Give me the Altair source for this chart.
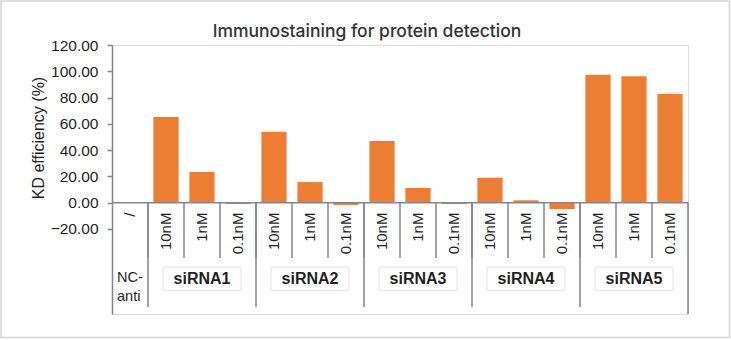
import altair as alt
import pandas as pd

# ---------------- data ----------------
title_text = "Immunostaining for protein detection"
groups = ["siRNA1", "siRNA2", "siRNA3", "siRNA4", "siRNA5"]
concs = ["10nM", "1nM", "0.1nM"]
kd_siRNA1 = [65.3, 23.3, -0.9]
kd_siRNA2 = [54.0, 15.7, -1.7]
kd_siRNA3 = [46.9, 11.2, -1.0]
kd_siRNA4 = [19.0, 1.8, -4.8]
kd_siRNA5 = [97.3, 96.3, 82.7]
nc_label_lines = ["NC-", "anti"]
nc_tick = "/"
nc_value = 0.0
y_ticks = [-20, 0, 20, 40, 60, 80, 100, 120]

values = dict(zip(groups, [kd_siRNA1, kd_siRNA2, kd_siRNA3, kd_siRNA4, kd_siRNA5]))

rows = [{"key": "NC", "conc": nc_tick, "group": "NC-anti", "value": nc_value}]
for g in groups:
    for c, v in zip(concs, values[g]):
        rows.append({"key": f"{g} {c}", "conc": c, "group": g, "value": v})
df = pd.DataFrame(rows)
order = list(df["key"])

# ---------------- layout (data units of y scale, below zero = table) ----------------
Y_MIN, Y_MAX = -84.7, 120
SHORT_BOTTOM = -42.0
LONG_BOTTOM = -79.4
CONC_LABEL_TOP = -7.5
GROUP_LABEL_Y = -58.4
BOX_TOP, BOX_BOTTOM = -49.0, -66.6
NC_Y = [-57.6, -72.0]

LINE = "#858585"
TXT = "#1f1f1f"
FONT = "Liberation Sans"

x_scale = alt.Scale(domain=order, paddingInner=0, paddingOuter=0)
y_scale = alt.Scale(domain=[Y_MIN, Y_MAX], nice=False)

y_axis = alt.Axis(
    values=y_ticks, format=".2f", grid=False, labelOverlap=False,
    domainColor=LINE, domainWidth=1.5, tickColor=LINE, tickWidth=1.5, tickSize=5,
    labelFont=FONT, labelFontSize=15.5, labelColor=TXT, labelPadding=9,
    title="KD efficiency (%)", titleFont=FONT, titleFontSize=16,
    titleFontWeight="normal", titleColor=TXT, titleAngle=270,
    titleX=-74, titleY=92.5, titleAlign="center", titleBaseline="middle",
)

def X(**kw):
    return alt.X("key:N", scale=x_scale, axis=None, sort=order, **kw)

def YD(v):
    return alt.YDatum(v, scale=y_scale, axis=y_axis)

def Y2D(v):
    return alt.Y2Datum(v)

bars = alt.Chart(df).mark_bar(color="#ED7D31", width=alt.RelativeBandSize(0.7)).encode(
    x=X(),
    y=alt.Y("value:Q", scale=y_scale, axis=y_axis),
    y2=Y2D(0),
)

zero_line = alt.Chart(pd.DataFrame({"z": [0]})).mark_rule(color=LINE, strokeWidth=1.5).encode(
    y=alt.Y("z:Q", scale=y_scale, axis=y_axis)
)

sep_short = alt.Chart(df.iloc[1:]).mark_rule(color=LINE, strokeWidth=1.5).encode(
    x=X(bandPosition=0), y=YD(0), y2=Y2D(SHORT_BOTTOM)
)

group_starts = df.groupby("group", sort=False).head(1).iloc[1:]
sep_long = alt.Chart(group_starts).mark_rule(color=LINE, strokeWidth=1.5).encode(
    x=X(bandPosition=0), y=YD(0), y2=Y2D(LONG_BOTTOM)
)

sep_end = alt.Chart(df.iloc[[-1]]).mark_rule(color=LINE, strokeWidth=1.5).encode(
    x=X(bandPosition=1), y=YD(0), y2=Y2D(Y_MIN)
)

conc_labels = alt.Chart(df).mark_text(
    angle=270, align="right", baseline="middle", font=FONT, fontSize=15, color=TXT
).encode(x=X(), y=YD(CONC_LABEL_TOP), text="conc:N")

mid = df[df["conc"] == concs[1]]
boxes = alt.Chart(mid).mark_bar(
    width=78, fill="white", stroke="#e2e2e2", strokeWidth=1
).encode(x=X(), y=YD(BOX_TOP), y2=Y2D(BOX_BOTTOM))

group_labels = alt.Chart(mid).mark_text(
    align="center", baseline="middle", font=FONT, fontSize=16, fontWeight="bold", color=TXT
).encode(x=X(), y=YD(GROUP_LABEL_Y), text="group:N")

nc_df = pd.DataFrame({"key": ["NC", "NC"], "line": nc_label_lines, "y": NC_Y})
nc_labels = alt.Chart(nc_df).mark_text(
    align="left", baseline="middle", dx=5, font=FONT, fontSize=14.5, color=TXT
).encode(x=X(bandPosition=0), y=alt.Y("y:Q", scale=y_scale, axis=y_axis), text="line:N")

border = alt.Chart(pd.DataFrame({"b": [0]})).mark_rect(
    fillOpacity=0, stroke="#d4d4d4", strokeWidth=1.5
).encode(x=alt.value(-111), x2=alt.value(617.5), y=alt.value(-44), y2=alt.value(292.5))

title = alt.Chart(pd.DataFrame({"t": [title_text]})).mark_text(
    align="center", baseline="middle", font="Inter", fontSize=17.5, fontWeight=500,
    color="#333333"
).encode(x=alt.value(255), y=alt.value(-13), text="t:N")

chart = alt.layer(
    border, bars, zero_line, sep_short, sep_long, sep_end,
    conc_labels, boxes, group_labels, nc_labels, title,
).properties(
    width=576,
    height=269,
    autosize=alt.AutoSizeParams(type="none"),
    padding={"left": 112, "top": 45, "right": 43, "bottom": 26},
).configure_view(strokeWidth=0).configure_axisY(labelOverlap=False).configure(background="white")

chart.save("out.html", embed_options={"renderer": "svg", "actions": False})
